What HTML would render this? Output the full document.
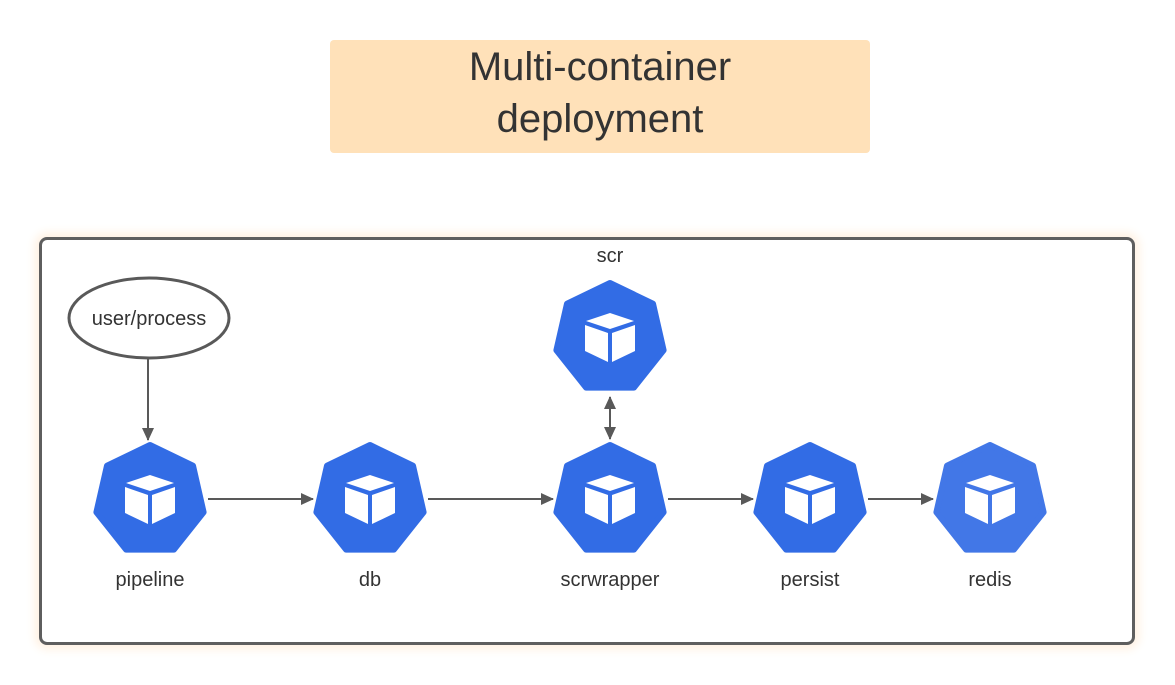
<!DOCTYPE html>
<html><head><style>
body{margin:0;width:1175px;height:685px;background:#fff;font-family:"Liberation Sans",sans-serif;position:relative;overflow:hidden}
.title{position:absolute;left:330px;top:40px;width:540px;height:113px;background:#ffe1b9;border-radius:4px;text-align:center;font-size:40px;color:#333;line-height:52px;padding-top:1px;box-sizing:border-box}
.box{position:absolute;left:39px;top:237px;width:1096px;height:408px;border:3px solid #5e5e5e;border-radius:8px;box-sizing:border-box;box-shadow:0 0 10px 4px #fff0e0}
</style></head><body>
<div class="title">Multi-container<br>deployment</div>
<div class="box"></div>
<svg width="1175" height="685" style="position:absolute;left:0;top:0">
<defs>
<g id="k">
<polygon points="0,-55 43,-34.3 53.6,12.2 23.9,49.6 -23.9,49.6 -53.6,12.2 -43,-34.3" fill="#326ce5" stroke="#326ce5" stroke-width="6" stroke-linejoin="round"/>
<polygon points="0,-25 24,-17 0,-9 -24,-17" fill="#fff"/>
<polygon points="-25,-13 -2,-5 -2,24 -25,13" fill="#fff"/>
<polygon points="2,-5 25,-13 25,13 2,24" fill="#fff"/>
</g>
<marker id="a" markerWidth="13" markerHeight="12" refX="12" refY="6" orient="auto" markerUnits="userSpaceOnUse"><path d="M0,0 L13,6 L0,12z" fill="#595959"/></marker>
<marker id="b" markerWidth="13" markerHeight="12" refX="12" refY="6" orient="auto-start-reverse" markerUnits="userSpaceOnUse"><path d="M0,0 L13,6 L0,12z" fill="#595959"/></marker>
</defs>
<ellipse cx="149" cy="318" rx="80" ry="40" fill="#fff" stroke="#595959" stroke-width="3"/>
<text x="149" y="325" font-size="20" text-anchor="middle" fill="#333">user/process</text>
<g stroke="#595959" stroke-width="2" fill="none">
<line x1="148" y1="359" x2="148" y2="440" marker-end="url(#a)"/>
<line x1="208" y1="499" x2="313" y2="499" marker-end="url(#a)"/>
<line x1="428" y1="499" x2="553" y2="499" marker-end="url(#a)"/>
<line x1="668" y1="499" x2="753" y2="499" marker-end="url(#a)"/>
<line x1="868" y1="499" x2="933" y2="499" marker-end="url(#a)"/>
<line x1="610" y1="397" x2="610" y2="439" marker-end="url(#b)" marker-start="url(#b)"/>
</g>
<use href="#k" x="610" y="338"/>
<use href="#k" x="150" y="500"/>
<use href="#k" x="370" y="500"/>
<use href="#k" x="610" y="500"/>
<use href="#k" x="810" y="500"/>
<use href="#k" x="990" y="500" opacity="0.92"/>
<g font-size="20" text-anchor="middle" fill="#333">
<text x="610" y="262">scr</text>
<text x="150" y="586">pipeline</text>
<text x="370" y="586">db</text>
<text x="610" y="586">scrwrapper</text>
<text x="810" y="586">persist</text>
<text x="990" y="586">redis</text>
</g>
</svg>
</body></html>
